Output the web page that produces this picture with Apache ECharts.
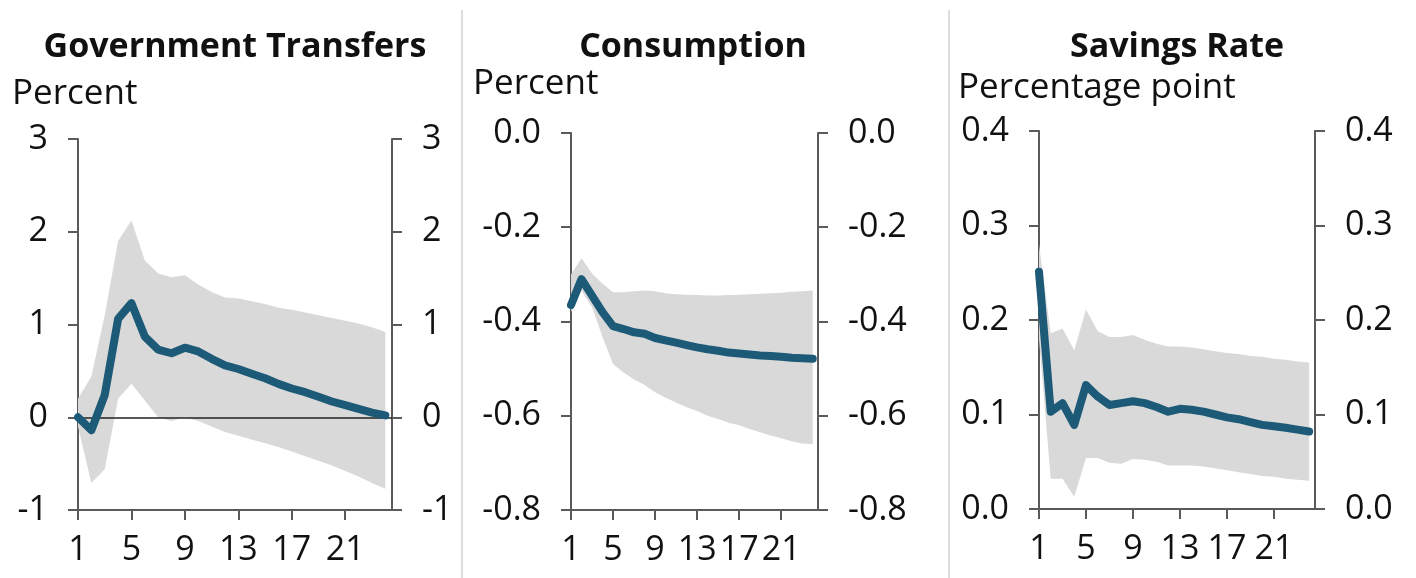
<!DOCTYPE html>
<html>
<head>
<meta charset="utf-8">
<script src="https://cdn.jsdelivr.net/npm/echarts@6/dist/echarts.min.js"></script>
<style>
html,body{margin:0;padding:0;background:#fff;}
#c{width:1416px;height:578px;}
</style>
</head>
<body>
<div id="c"></div>
<script>
// ---- data ----
const periods = [1,2,3,4,5,6,7,8,9,10,11,12,13,14,15,16,17,18,19,20,21,22,23,24];
const xTicks = [1,5,9,13,17,21];

const transfers     = [0.00,-0.14,0.24,1.06,1.23,0.87,0.73,0.69,0.75,0.71,0.63,0.56,0.52,0.47,0.42,0.36,0.31,0.27,0.22,0.17,0.13,0.09,0.05,0.02];
const transfersHigh = [0.20,0.44,1.10,1.90,2.12,1.69,1.55,1.51,1.53,1.43,1.35,1.29,1.28,1.25,1.22,1.18,1.16,1.13,1.10,1.07,1.04,1.01,0.97,0.92];
const transfersLow  = [-0.10,-0.71,-0.56,0.20,0.36,0.18,0.00,-0.04,0.00,-0.04,-0.10,-0.16,-0.20,-0.24,-0.28,-0.32,-0.37,-0.42,-0.47,-0.52,-0.58,-0.64,-0.71,-0.77];

const consumption     = [-0.365,-0.31,-0.345,-0.38,-0.41,-0.416,-0.423,-0.426,-0.435,-0.44,-0.445,-0.45,-0.455,-0.459,-0.462,-0.466,-0.468,-0.47,-0.472,-0.473,-0.475,-0.477,-0.478,-0.479];
const consumptionHigh = [-0.30,-0.266,-0.298,-0.32,-0.338,-0.338,-0.336,-0.334,-0.336,-0.34,-0.342,-0.343,-0.344,-0.345,-0.345,-0.344,-0.343,-0.342,-0.341,-0.34,-0.339,-0.337,-0.336,-0.334];
const consumptionLow  = [-0.38,-0.335,-0.37,-0.433,-0.49,-0.508,-0.523,-0.535,-0.55,-0.562,-0.572,-0.582,-0.59,-0.60,-0.607,-0.615,-0.62,-0.628,-0.635,-0.642,-0.648,-0.654,-0.659,-0.66];

const savings     = [0.251,0.103,0.112,0.089,0.131,0.119,0.110,0.112,0.114,0.112,0.108,0.103,0.106,0.105,0.103,0.100,0.097,0.095,0.092,0.089,0.0875,0.086,0.084,0.082];
const savingsHigh = [0.280,0.186,0.191,0.168,0.211,0.188,0.182,0.182,0.184,0.179,0.175,0.172,0.172,0.171,0.169,0.167,0.165,0.164,0.162,0.161,0.159,0.158,0.156,0.155];
const savingsLow  = [0.180,0.032,0.032,0.013,0.054,0.054,0.049,0.048,0.053,0.052,0.050,0.046,0.046,0.046,0.045,0.043,0.041,0.039,0.037,0.035,0.034,0.032,0.031,0.030];

const titles = ['Government Transfers','Consumption','Savings Rate'];
const units  = ['Percent','Percent','Percentage point'];

// ---- style ----
const FONT = '"Open Sans", "Noto Sans", sans-serif';
const LINE_COLOR = '#1d5a77';
const BAND_COLOR = '#d9d9d9';
const AXIS_COLOR = '#5a5a5a';
const TEXT_COLOR = '#111111';
const LABEL_SIZE = 34;

const panels = [
  {grid:{left:78, top:139, width:314, height:371}, min:-1, max:3, interval:1, dec:0,
   line:transfers, hi:transfersHigh, lo:transfersLow, zero:true,
   titleX:235, titleY:47, unitX:12, unitY:94},
  {grid:{left:571, top:133, width:247, height:377}, min:-0.8, max:0, interval:0.2, dec:1,
   line:consumption, hi:consumptionHigh, lo:consumptionLow, zero:false,
   titleX:693, titleY:47, unitX:473, unitY:84},
  {grid:{left:1039, top:131, width:276, height:378}, min:0, max:0.4, interval:0.1, dec:1,
   line:savings, hi:savingsHigh, lo:savingsLow, zero:false,
   titleX:1177, titleY:47, unitX:958, unitY:88}
];

const grid = [], xAxis = [], yAxis = [], series = [], graphic = [];

panels.forEach((p, i) => {
  grid.push(Object.assign({containLabel:false}, p.grid));
  xAxis.push({
    type:'value', gridIndex:i, min:1, max:24.5,
    axisLine:{show:true, onZero:false, lineStyle:{color:AXIS_COLOR, width:2}},
    axisTick:{show:true, length:10, customValues:xTicks, lineStyle:{color:AXIS_COLOR, width:2}},
    axisLabel:{customValues:xTicks, fontSize:LABEL_SIZE, fontFamily:FONT, color:TEXT_COLOR, margin:23},
    splitLine:{show:false}
  });
  const fmt = v => {
    if (Math.abs(v) < 1e-9) v = 0;
    return p.dec ? v.toFixed(p.dec) : String(Math.round(v));
  };
  ['left','right'].forEach(pos => {
    yAxis.push({
      type:'value', gridIndex:i, position:pos, min:p.min, max:p.max, interval:p.interval,
      axisLine:{show:true, onZero:false, lineStyle:{color:AXIS_COLOR, width:2}},
      axisTick:{show:true, length:10, lineStyle:{color:AXIS_COLOR, width:2}},
      axisLabel:{fontSize:LABEL_SIZE, fontFamily:FONT, color:TEXT_COLOR, margin:30, formatter:fmt},
      splitLine:{show:false}
    });
  });

  const bandRows = periods.map((x, k) => [x, p.lo[k], p.hi[k]]);
  series.push({
    type:'custom', xAxisIndex:i, yAxisIndex:2*i, coordinateSystem:'cartesian2d',
    silent:true, z:1,
    encode:{x:0, y:[1,2]},
    data:bandRows,
    renderItem:(params, api) => {
      if (params.dataIndex !== 0) return null;
      const upper = bandRows.map(r => api.coord([r[0], r[2]]));
      const lower = bandRows.map(r => api.coord([r[0], r[1]])).reverse();
      return {type:'polygon', shape:{points:upper.concat(lower)}, style:{fill:BAND_COLOR}};
    }
  });

  const s = {
    type:'line', xAxisIndex:i, yAxisIndex:2*i, z:10,
    data:periods.map((x, k) => [x, p.line[k]]),
    showSymbol:false, symbol:'none', silent:true,
    lineStyle:{color:LINE_COLOR, width:8, cap:'round', join:'round'}
  };
  if (p.zero) {
    s.markLine = {
      silent:true, symbol:'none', z:3, animation:false,
      label:{show:false},
      lineStyle:{color:'#222', width:1.5, type:'solid'},
      data:[{yAxis:0}]
    };
  }
  series.push(s);

  graphic.push({type:'text', x:p.titleX, y:p.titleY,
    style:{text:titles[i], fill:TEXT_COLOR, font:'bold 34px ' + FONT, align:'center', verticalAlign:'middle'}});
  graphic.push({type:'text', x:p.unitX, y:p.unitY,
    style:{text:units[i], fill:TEXT_COLOR, font:'35px ' + FONT, align:'left', verticalAlign:'middle'}});
});

// panel separators
[462, 949].forEach(x => {
  graphic.push({type:'line', shape:{x1:x, y1:10, x2:x, y2:578}, style:{stroke:'#dddddd', lineWidth:2}, silent:true});
});

const chart = echarts.init(document.getElementById('c'), null, {renderer:'canvas'});
chart.setOption({
  animation:false,
  backgroundColor:'#ffffff',
  grid, xAxis, yAxis, series, graphic
});
</script>
</body>
</html>
